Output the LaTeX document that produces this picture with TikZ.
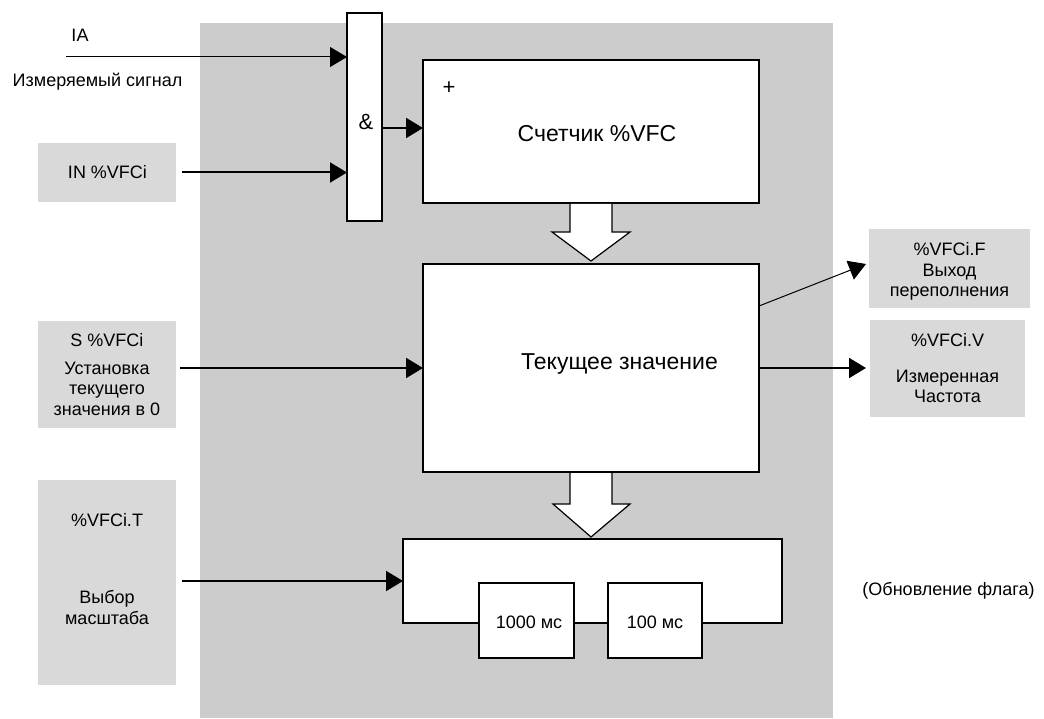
\documentclass[tikz,border=0pt]{standalone}
\usepackage{fontspec}
\setmainfont{Liberation Sans}
\usetikzlibrary{arrows.meta,calc}
\definecolor{bggray}{RGB}{204,204,204}
\definecolor{lgray}{RGB}{217,217,217}
\tikzset{
  box/.style={draw, line width=2pt, fill=white, inner sep=0pt, outer sep=0pt},
  lbox/.style={fill=lgray, inner sep=0pt, outer sep=0pt},
  txt/.style={font=\fontsize{18}{20}\selectfont, inner sep=0pt, anchor=base},
  midtxt/.style={font=\fontsize{22}{24}\selectfont, inner sep=0pt, anchor=base},
  bigtxt/.style={font=\fontsize{23}{26}\selectfont, inner sep=0pt, anchor=base},
  arr/.style={line width=2pt, -{Triangle[length=17pt,width=20pt]}},
  thinarr/.style={line width=1pt, -{Triangle[length=17pt,width=20pt]}},
  hollow/.style={draw, fill=white, line width=1.2pt, line join=miter},
}
\begin{document}
\begin{tikzpicture}[x=1pt,y=-1pt]
\useasboundingbox (0,0) rectangle (1044,719);
% background panel
\node[fill=bggray, inner sep=0pt, minimum width=633pt, minimum height=695pt] (panel) at (516.5,370.5) {};
% light grey label boxes
\node[lbox, minimum width=138pt, minimum height=59pt] (in) at (107,172.5) {};
\node[lbox, minimum width=138pt, minimum height=107pt] (s) at (107,374.5) {};
\node[lbox, minimum width=138pt, minimum height=205pt] (t) at (107,582.5) {};
\node[lbox, minimum width=161pt, minimum height=79pt] (f) at (949.5,268.5) {};
\node[lbox, minimum width=155pt, minimum height=97pt] (v) at (947.5,368.5) {};
% main blocks
\node[box, minimum width=35pt, minimum height=208pt] (gate) at (364.5,117) {};
\node[box, minimum width=336pt, minimum height=143pt] (counter) at (591,131.5) {};
\node[box, minimum width=336pt, minimum height=208pt] (value) at (591,368) {};
\node[box, minimum width=379pt, minimum height=84pt] (block) at (592.5,581) {};
\node[box, minimum width=95pt, minimum height=75pt] (b1000) at (526.5,620.5) {};
\node[box, minimum width=94pt, minimum height=75pt] (b100) at (655,620.5) {};
% hollow arrows
\draw[hollow] ([xshift=-21pt,yshift=-1pt]counter.south) -- ++(0,28) -- ++(-18,0)
  -- ([yshift=-58pt]counter.south) -- ++(39,-29) -- ++(-18,0)
  -- ([xshift=21pt,yshift=-1pt]counter.south);
\draw[hollow] ([xshift=-21pt,yshift=-1pt]value.south) -- ++(0,31) -- ++(-17,0)
  -- ([yshift=-65pt]value.south) -- ++(39,-33) -- ++(-18,0)
  -- ([xshift=21pt,yshift=-1pt]value.south);
% connectors
\coordinate (iastart) at (66,57);
\coordinate (gy) at (0,128);
\coordinate (sst) at ([xshift=4pt]s.east);
\coordinate (tst) at ([xshift=6pt]t.east);
\coordinate (vend) at ([xshift=-4pt]v.west);
\draw[thinarr] (iastart) -- (iastart -| gate.west);
\draw[arr] ([xshift=6pt]in.east) -- (in.east -| gate.west);
\draw[arr] (gate.east |- gy) -- (counter.west |- gy);
\draw[arr] (sst |- value.west) -- (value.west);
\draw[arr] (tst |- block.west) -- (block.west);
\draw[arr] (value.east) -- (value.east -| vend);
\draw[thinarr] ([yshift=62pt]value.east) -- ([xshift=-3pt,yshift=4.5pt]f.west);
% texts
\node[txt] (ia) at (80,42) {IA};
\node[txt] (meas) at (97.5,87) {Измеряемый сигнал};
\node[txt] (intxt) at (107.5,179) {IN \%VFCi};
\node[midtxt] (amp) at (366,130) {\&};
\node[midtxt] (plus) at (449,95) {+};
\node[bigtxt] (ctxt) at (597,142) {Счетчик \%VFC};
\node[bigtxt] (vtxt) at (619.5,369) {Текущее значение};
\node[txt] (f1) at (949.5,256) {\%VFCi.F};
\node[txt] (f2) at (949.5,277) {Выход};
\node[txt] (f3) at (949.5,297) {переполнения};
\node[txt] (v1) at (947.5,346) {\%VFCi.V};
\node[txt] (v2) at (947.5,382) {Измеренная};
\node[txt] (v3) at (947.5,402) {Частота};
\node[txt] (s1) at (107,346) {S \%VFCi};
\node[txt] (s2) at (107,374) {Установка};
\node[txt] (s3) at (107,394.5) {текущего};
\node[txt] (s4) at (107,415) {значения в 0};
\node[txt] (t1) at (107,526) {\%VFCi.T};
\node[txt] (t2) at (107,603) {Выбор};
\node[txt] (t3) at (107,624) {масштаба};
\node[txt] (ms1000) at (529,628) {1000 мс};
\node[txt] (ms100) at (655,628) {100 мс};
\node[txt] (upd) at (948.5,595) {(Обновление флага)};
\end{tikzpicture}
\end{document}
